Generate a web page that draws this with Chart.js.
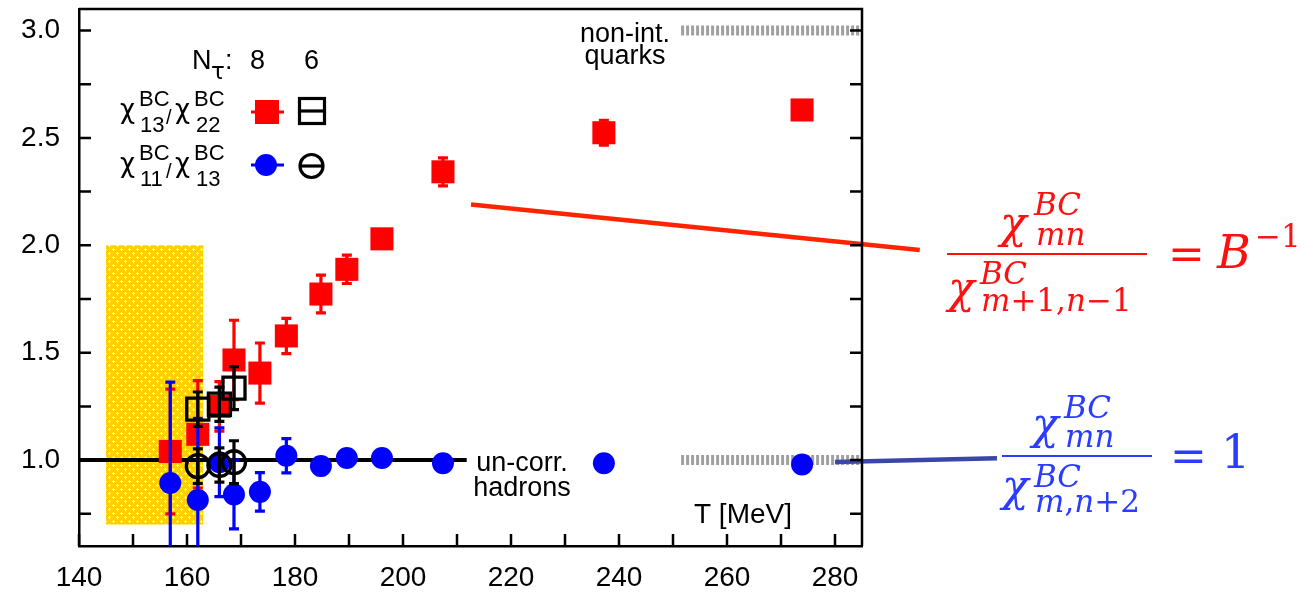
<!DOCTYPE html>
<html>
<head>
<meta charset="utf-8">
<script src="https://cdn.jsdelivr.net/npm/chart.js@4.4.1/dist/chart.umd.min.js"></script>
<style>
  html, body { margin: 0; padding: 0; background: #fff; }
</style>
</head>
<body>
<canvas id="ratioChart" width="1313" height="592"></canvas>
<script>
// temperatures [MeV]
var tempN8 = [156.9, 162.0, 166.0, 168.7, 173.5, 178.4, 184.8, 189.6, 196.1, 207.4, 237.2, 273.9];
var tempN6 = [162.0, 166.0, 168.7];

// chi13/chi22 ratio
var r1322N8 = [1.04, 1.12, 1.25, 1.466, 1.405, 1.578, 1.773, 1.888, 2.03, 2.342, 2.524, 2.63];
var r1322N8Err = [0.29, 0.25, 0.115, 0.185, 0.14, 0.082, 0.088, 0.066, 0.025, 0.065, 0.058, 0.03];
var r1322N6 = [1.237, 1.26, 1.335];
var r1322N6Err = [0.08, 0.08, 0.10];

// chi11/chi13 ratio
var r1113N8 = [0.893, 0.814, 0.99, 0.84, 0.852, 1.02, 0.972, 1.01, 1.01, 0.985, 0.985, 0.98];
var r1113N8Err = [0.47, 0.38, 0.16, 0.16, 0.09, 0.08, 0.04, 0.02, 0.02, 0.015, 0.01, 0.01];
var r1113N6 = [0.972, 0.977, 0.99];
var r1113N6Err = [0.08, 0.08, 0.10];

// limits: uncorrelated hadrons and non-interacting quarks
var hadronT = [140, 211.8];
var hadronRatio = [1.0, 1.0];
var quarkT = [251.5, 285];
var quarkRatio13 = [3.0, 3.0];
var quarkRatio11 = [1.0, 1.0];

// crossover region
var bandT = [145, 163];
var bandRatio = [0.7, 2.0];

// pointer lines to the formulas
var redPointerT = [212.6, 295.7];
var redPointerY = [2.19, 1.978];
var bluePointerT = [280, 310];
var bluePointerY = [0.991, 1.009];

// axis ticks (minor ones carry an empty label)
var xTicks = [140, 150, 160, 170, 180, 190, 200, 210, 220, 230, 240, 250, 260, 270, 280];
var xTickLabels = ['140', '', '160', '', '180', '', '200', '', '220', '', '240', '', '260', '', '280'];
var yTicks = [0.75, 1.0, 1.25, 1.5, 1.75, 2.0, 2.25, 2.5, 2.75, 3.0];
var yTickLabels = ['', '1.0', '', '1.5', '', '2.0', '', '2.5', '', '3.0'];

var sans = "'Liberation Sans', Arial, sans-serif";
var greek = "'DejaVu Sans', sans-serif";
var serif = "'DejaVu Serif', 'Liberation Serif', serif";

function pts(xs, ys) {
    return xs.map(function (x, i) { return { x: x, y: ys[i] }; });
}

// gold hatch for the crossover band
function bandPattern(ctx) {
    var c = document.createElement('canvas');
    c.width = 8; c.height = 8;
    var g = c.getContext('2d');
    g.fillStyle = '#ffd000';
    g.fillRect(0, 0, 8, 8);
    g.fillStyle = '#fff4b0';
    [[1, 1], [5, 5]].forEach(function (p) {
        g.fillRect(p[0], p[1] - 1, 1, 3);
        g.fillRect(p[0] - 1, p[1], 3, 1);
    });
    return ctx.createPattern(c, 'repeat');
}

var bandPlugin = {
    id: 'band',
    beforeDatasetsDraw: function (chart) {
        var ctx = chart.ctx, xs = chart.scales.x, ys = chart.scales.y;
        var x0 = xs.getPixelForValue(bandT[0]), x1 = xs.getPixelForValue(bandT[1]);
        var y0 = ys.getPixelForValue(bandRatio[1]), y1 = ys.getPixelForValue(bandRatio[0]);
        ctx.save();
        ctx.fillStyle = bandPattern(ctx);
        ctx.fillRect(x0, y0, x1 - x0, y1 - y0);
        ctx.restore();
    }
};

var errorBarPlugin = {
    id: 'errorBars',
    afterDatasetDraw: function (chart, args) {
        var ds = chart.data.datasets[args.index];
        if (!ds.errors) return;
        var ctx = chart.ctx, ys = chart.scales.y, area = chart.chartArea;
        ctx.save();
        ctx.beginPath();
        ctx.rect(area.left, area.top, area.right - area.left, area.bottom - area.top);
        ctx.clip();
        ctx.strokeStyle = ds.errorColor;
        ctx.lineWidth = 3.2;
        args.meta.data.forEach(function (pt, i) {
            var v = ds.data[i].y, e = ds.errors[i];
            var yt = ys.getPixelForValue(v + e), yb = ys.getPixelForValue(v - e);
            ctx.beginPath();
            ctx.moveTo(pt.x, yt); ctx.lineTo(pt.x, yb);
            ctx.moveTo(pt.x - 5, yt); ctx.lineTo(pt.x + 5, yt);
            ctx.moveTo(pt.x - 5, yb); ctx.lineTo(pt.x + 5, yb);
            ctx.stroke();
        });
        ctx.restore();
    }
};

// closes the box and puts inward tick marks on left, right and bottom
var framePlugin = {
    id: 'frame',
    afterDraw: function (chart) {
        var ctx = chart.ctx, a = chart.chartArea, xs = chart.scales.x, ys = chart.scales.y;
        var tl = 12;
        ctx.save();
        ctx.strokeStyle = '#000';
        ctx.lineWidth = 2.5;
        ctx.beginPath();
        ctx.moveTo(a.left, a.top); ctx.lineTo(a.right, a.top); ctx.lineTo(a.right, a.bottom);
        ys.ticks.forEach(function (t) {
            var y = ys.getPixelForValue(t.value);
            ctx.moveTo(a.left, y); ctx.lineTo(a.left + tl, y);
            ctx.moveTo(a.right, y); ctx.lineTo(a.right - tl, y);
        });
        xs.ticks.forEach(function (t) {
            var x = xs.getPixelForValue(t.value);
            ctx.moveTo(x, a.bottom); ctx.lineTo(x, a.bottom - tl);
        });
        ctx.stroke();
        ctx.restore();
    }
};

function put(ctx, s, x, y, size, font, italic) {
    ctx.font = (italic ? 'italic ' : '') + size + 'px ' + font;
    ctx.fillText(s, x, y);
    return x + ctx.measureText(s).width;
}

// text run of mixed italic / upright pieces
function run(ctx, parts, x, y, size) {
    var cx = x;
    parts.forEach(function (p) { cx = put(ctx, p[0], cx, y, size, serif, p[1]); });
    return cx;
}

var labelPlugin = {
    id: 'labels',
    afterDraw: function (chart) {
        var ctx = chart.ctx;
        ctx.save();
        ctx.textBaseline = 'alphabetic';
        ctx.fillStyle = '#000';

        // key
        ctx.textAlign = 'left';
        put(ctx, 'N', 192, 69, 27, sans);
        put(ctx, 'τ', 211, 79, 23, greek);
        put(ctx, ':', 225, 69, 27, sans);
        put(ctx, '8', 250, 69, 27, sans);
        put(ctx, '6', 304, 69, 27, sans);
        [[118, '13', '22'], [172, '11', '13']].forEach(function (r) {
            var b = r[0];
            put(ctx, 'χ', 120, b, 26, greek);
            put(ctx, 'BC', 139, b - 12, 22, sans);
            put(ctx, r[1], 140, b + 14, 22, sans);
            put(ctx, '/', 166, b + 6, 20, sans);
            put(ctx, 'χ', 175, b, 26, greek);
            put(ctx, 'BC', 194, b - 12, 22, sans);
            put(ctx, r[2], 196, b + 14, 22, sans);
        });
        ctx.lineWidth = 3;
        // red square with stubs
        ctx.strokeStyle = '#ff0000'; ctx.fillStyle = '#ff0000';
        ctx.beginPath(); ctx.moveTo(251, 112); ctx.lineTo(284, 112); ctx.stroke();
        ctx.fillRect(255, 100, 24, 24);
        // blue circle with stubs
        ctx.strokeStyle = '#0000ff'; ctx.fillStyle = '#0000ff';
        ctx.beginPath(); ctx.moveTo(251, 165); ctx.lineTo(284, 165); ctx.stroke();
        ctx.beginPath(); ctx.arc(266, 165, 11, 0, Math.PI * 2); ctx.fill();
        // open black square and circle
        ctx.strokeStyle = '#000';
        ctx.lineWidth = 3.2;
        ctx.strokeRect(299.5, 98.5, 25, 25);
        ctx.beginPath(); ctx.moveTo(300, 111); ctx.lineTo(324, 111); ctx.stroke();
        ctx.beginPath(); ctx.arc(311.5, 166, 11.5, 0, Math.PI * 2); ctx.stroke();
        ctx.beginPath(); ctx.moveTo(300, 166); ctx.lineTo(323, 166); ctx.stroke();

        // limit labels
        ctx.fillStyle = '#000';
        ctx.textAlign = 'center';
        put(ctx, 'non-int.', 625, 42, 27, sans);
        put(ctx, 'quarks', 625, 64, 27, sans);
        put(ctx, 'un-corr.', 522, 471, 27, sans);
        put(ctx, 'hadrons', 522, 496, 27, sans);
        ctx.textAlign = 'right';
        put(ctx, 'T [MeV]', 792, 523, 28, sans);

        // B^-1 formula
        ctx.textAlign = 'left';
        ctx.fillStyle = '#ff1010';
        put(ctx, 'χ', 1000, 238, 44, serif, true);
        put(ctx, 'BC', 1034, 215, 31, serif, true);
        put(ctx, 'mn', 1036, 245, 31, serif, true);
        ctx.fillRect(947, 253, 200, 2);
        put(ctx, 'χ', 948, 303, 44, serif, true);
        put(ctx, 'BC', 980, 284, 31, serif, true);
        run(ctx, [['m', true], ['+1,', false], ['n', true], ['−1', false]], 981, 311, 31);
        put(ctx, '=', 1168, 269, 44, serif);
        put(ctx, 'B', 1217, 268, 46, serif, true);
        put(ctx, '−1', 1255, 247, 31, serif);

        // unity formula
        ctx.fillStyle = '#2a3cff';
        put(ctx, 'χ', 1032, 439, 44, serif, true);
        put(ctx, 'BC', 1064, 418, 31, serif, true);
        put(ctx, 'mn', 1065, 447, 31, serif, true);
        ctx.fillRect(1002, 455, 150, 2);
        put(ctx, 'χ', 1002, 501, 44, serif, true);
        put(ctx, 'BC', 1034, 487, 31, serif, true);
        run(ctx, [['m', true], [',', false], ['n', true], ['+2', false]], 1035, 512, 31);
        put(ctx, '=', 1170, 471, 44, serif);
        put(ctx, '1', 1221, 468, 46, serif);
        ctx.restore();
    }
};

var ctx = document.getElementById('ratioChart').getContext('2d');

var chart = new Chart(ctx, {
    type: 'scatter',
    data: {
        datasets: [
            {
                // uncorrelated hadron gas limit
                data: pts(hadronT, hadronRatio),
                showLine: true, borderColor: '#000', borderWidth: 4,
                pointRadius: 0, order: 10
            },
            {
                data: pts(quarkT, quarkRatio13),
                showLine: true, borderColor: '#a0a0a0', borderWidth: 10, borderDash: [3, 2],
                borderCapStyle: 'butt', pointRadius: 0, order: 10
            },
            {
                data: pts(quarkT, quarkRatio11),
                showLine: true, borderColor: '#a0a0a0', borderWidth: 10, borderDash: [3, 2],
                borderCapStyle: 'butt', pointRadius: 0, order: 10
            },
            {
                label: 'chi13/chi22 Nt=8',
                data: pts(tempN8, r1322N8), errors: r1322N8Err, errorColor: '#ff0000',
                pointStyle: 'rect', pointRadius: 16.3, pointBorderWidth: 0,
                pointBackgroundColor: '#ff0000', order: 6
            },
            {
                label: 'chi11/chi13 Nt=8',
                data: pts(tempN8, r1113N8), errors: r1113N8Err, errorColor: '#0000ff',
                pointStyle: 'circle', pointRadius: 11, pointBorderWidth: 0,
                pointBackgroundColor: '#0000ff', order: 5
            },
            {
                label: 'chi13/chi22 Nt=6',
                data: pts(tempN6, r1322N6), errors: r1322N6Err, errorColor: '#000',
                pointStyle: 'rect', pointRadius: 15.6, pointBorderWidth: 3.3,
                pointBorderColor: '#000', pointBackgroundColor: 'rgba(0,0,0,0)', order: 4
            },
            {
                label: 'chi11/chi13 Nt=6',
                data: pts(tempN6, r1113N6), errors: r1113N6Err, errorColor: '#000',
                pointStyle: 'circle', pointRadius: 11.5, pointBorderWidth: 3.3,
                pointBorderColor: '#000', pointBackgroundColor: 'rgba(0,0,0,0)', order: 3
            },
            {
                data: pts(bluePointerT, bluePointerY),
                showLine: true, borderColor: '#3b47a8', borderWidth: 4.5,
                pointRadius: 0, clip: false, order: 2
            },
            {
                data: pts(redPointerT, redPointerY),
                showLine: true, borderColor: '#ff2400', borderWidth: 4.5,
                pointRadius: 0, clip: false, order: 2
            }
        ]
    },
    options: {
        responsive: false,
        animation: false,
        events: [],
        layout: { autoPadding: false, padding: { top: 9, right: 451, left: 0, bottom: 0 } },
        plugins: { legend: { display: false }, tooltip: { enabled: false } },
        scales: {
            x: {
                type: 'linear', position: 'bottom', min: 140, max: 285,
                grid: { display: false, drawTicks: false },
                border: { display: true, color: '#000', width: 2.5 },
                afterBuildTicks: function (s) { s.ticks = xTicks.map(function (v) { return { value: v }; }); },
                afterFit: function (s) { s.height = 46; s.paddingLeft = 0; s.paddingRight = 0; },
                ticks: {
                    autoSkip: false, maxRotation: 0,
                    padding: 15, color: '#000', font: { family: sans, size: 28 },
                    callback: function (v, i) { return xTickLabels[i]; }
                }
            },
            y: {
                type: 'linear', position: 'left', min: 0.6, max: 3.1,
                grid: { display: false, drawTicks: false },
                border: { display: true, color: '#000', width: 2.5 },
                afterBuildTicks: function (s) { s.ticks = yTicks.map(function (v) { return { value: v }; }); },
                afterFit: function (s) { s.width = 79; s.paddingTop = 0; s.paddingBottom = 0; },
                ticks: {
                    autoSkip: false,
                    padding: 19, color: '#000', font: { family: sans, size: 28 },
                    callback: function (v, i) { return yTickLabels[i]; }
                }
            }
        }
    },
    plugins: [bandPlugin, errorBarPlugin, framePlugin, labelPlugin]
});
</script>
</body>
</html>
